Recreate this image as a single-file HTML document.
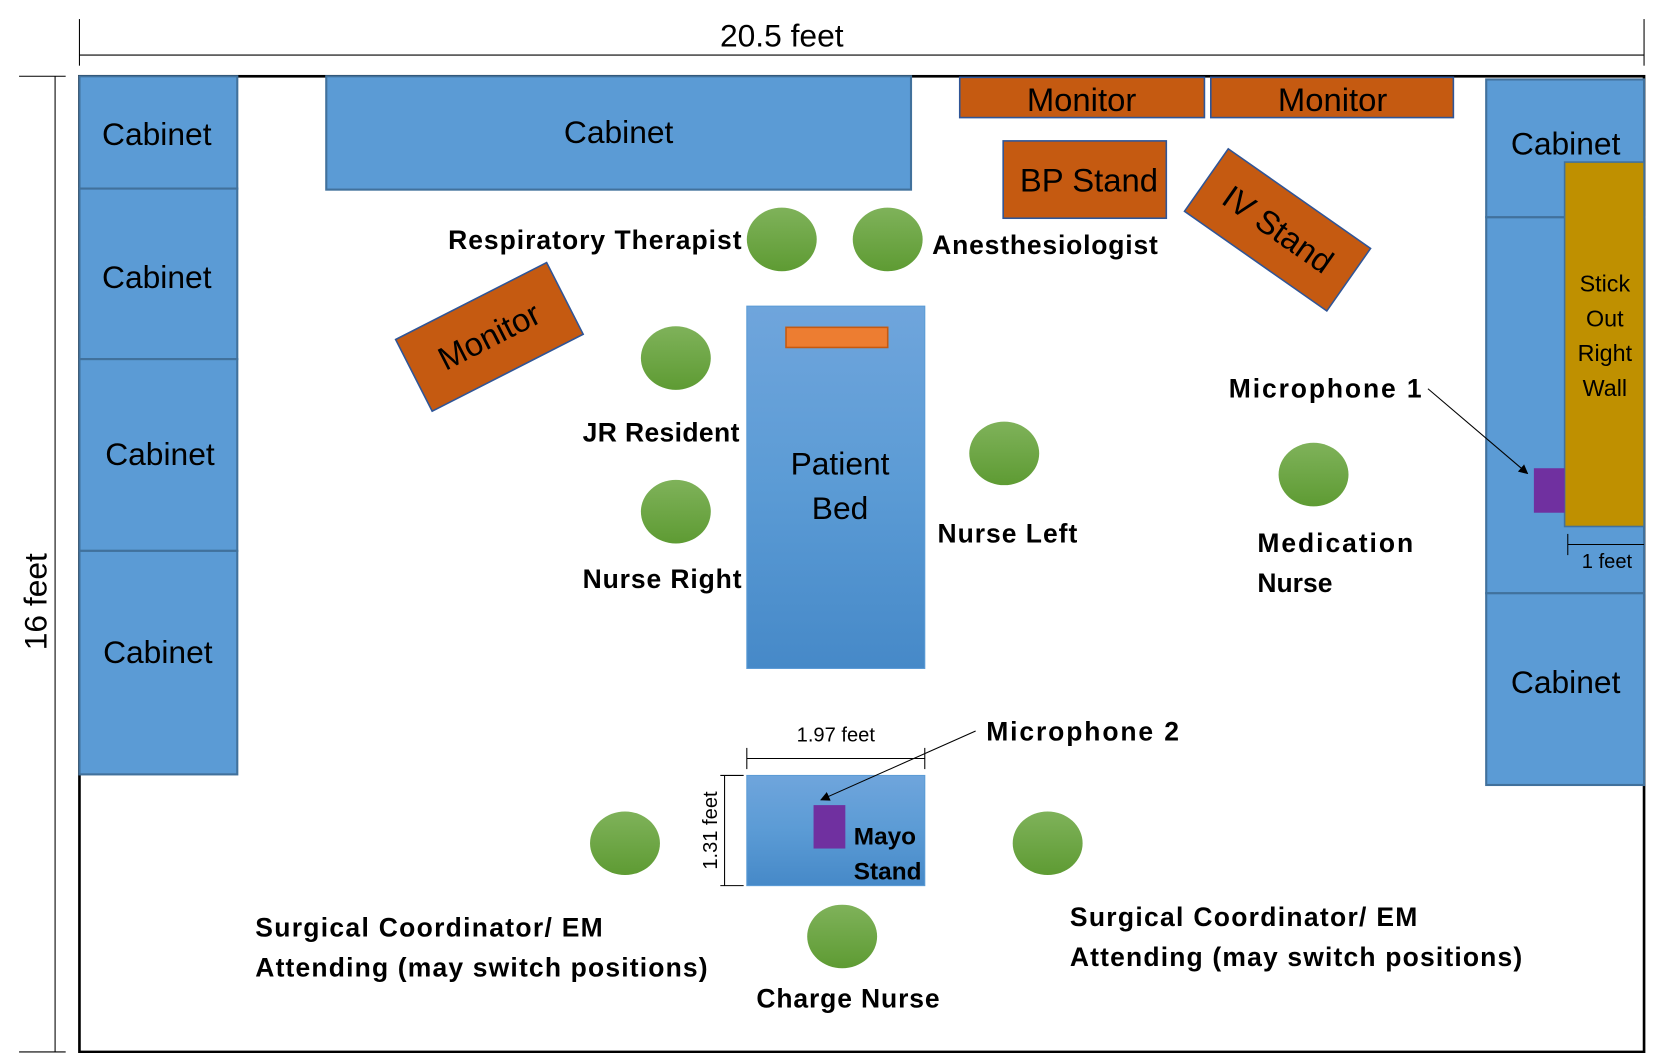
<!DOCTYPE html>
<html><head><meta charset="utf-8"><style>
html,body{margin:0;padding:0;background:#fff;width:1661px;height:1053px;overflow:hidden}
svg{display:block}
text{font-family:"Liberation Sans",sans-serif;fill:#000}
.c{fill:#5b9bd5;stroke:#41719c;stroke-width:2}
.o{fill:#c55a11;stroke:#2f5597;stroke-width:1.5}
.b{font-weight:bold;font-size:25px}
</style></head><body>
<svg width="1661" height="1053" viewBox="0 0 1568 994" preserveAspectRatio="none">
<defs>
<linearGradient id="g" x1="0" y1="0" x2="0" y2="1"><stop offset="0" stop-color="#7fb25a"/><stop offset="1" stop-color="#5e9b33"/></linearGradient>
<linearGradient id="bed" x1="0" y1="0" x2="0" y2="1"><stop offset="0" stop-color="#6fa5dc"/><stop offset="0.5" stop-color="#5b9bd5"/><stop offset="1" stop-color="#4689c8"/></linearGradient>
<marker id="ar" viewBox="0 0 10 10" refX="9" refY="5" markerWidth="9" markerHeight="9" orient="auto"><path d="M0,0L10,5L0,10z" fill="#000"/></marker>
</defs>
<line x1="75" y1="52" x2="1552" y2="52" stroke="#000" stroke-width="1"/>
<line x1="75" y1="18" x2="75" y2="62" stroke="#000"/>
<line x1="1552" y1="18" x2="1552" y2="62" stroke="#000"/>
<text x="738" y="44" font-size="30" text-anchor="middle">20.5 feet</text>
<line x1="52" y1="72" x2="52" y2="993" stroke="#000"/>
<line x1="18" y1="72" x2="62" y2="72" stroke="#000"/>
<line x1="18" y1="993" x2="62" y2="993" stroke="#000"/>
<text transform="translate(44,568) rotate(-90)" font-size="30" text-anchor="middle">16 feet</text>
<rect x="75" y="72" width="1477" height="921" fill="none" stroke="#000" stroke-width="2.5"/>
<rect class="c" x="75" y="72" width="149" height="106"/>
<rect class="c" x="75" y="178" width="149" height="161"/>
<rect class="c" x="75" y="339" width="149" height="181"/>
<rect class="c" x="75" y="520" width="149" height="211"/>
<text x="148" y="137" font-size="30" text-anchor="middle">Cabinet</text>
<text x="148" y="272" font-size="30" text-anchor="middle">Cabinet</text>
<text x="151" y="439" font-size="30" text-anchor="middle">Cabinet</text>
<text x="149" y="626" font-size="30" text-anchor="middle">Cabinet</text>
<rect class="c" x="308" y="72" width="552" height="107"/>
<text x="584" y="135" font-size="30" text-anchor="middle">Cabinet</text>
<rect class="o" x="906" y="73" width="231" height="38"/>
<rect class="o" x="1143" y="73" width="229" height="38"/>
<text x="1021" y="105" font-size="31" text-anchor="middle">Monitor</text>
<text x="1258" y="105" font-size="31" text-anchor="middle">Monitor</text>
<rect class="o" x="947" y="133" width="154" height="73"/>
<text x="1028" y="181" font-size="31" text-anchor="middle">BP Stand</text>
<g transform="translate(1206,217) rotate(35)"><rect class="o" x="-82" y="-36" width="164" height="72"/><text x="0" y="10" font-size="31" text-anchor="middle">IV Stand</text></g>
<g transform="translate(462,318) rotate(-27)"><rect class="o" x="-80" y="-38" width="160" height="76"/><text x="0" y="10" font-size="31" text-anchor="middle">Monitor</text></g>
<rect class="c" x="1403" y="205" width="149" height="355"/>
<rect class="c" x="1403" y="75" width="149" height="130"/>
<text x="1478" y="146" font-size="30" text-anchor="middle">Cabinet</text>
<rect class="c" x="1403" y="560" width="149" height="181"/>
<text x="1478" y="654" font-size="30" text-anchor="middle">Cabinet</text>
<rect x="1477" y="153" width="75" height="344" fill="#bf9000" stroke="#41719c" stroke-width="1.5"/>
<text font-size="22" text-anchor="middle"><tspan x="1515" y="275">Stick</tspan><tspan x="1515" y="308">Out</tspan><tspan x="1515" y="341">Right</tspan><tspan x="1515" y="374">Wall</tspan></text>
<rect x="1448" y="442" width="29" height="42" fill="#7030a0"/>
<line x1="1480" y1="514" x2="1552" y2="514" stroke="#000"/>
<line x1="1480" y1="504" x2="1480" y2="524" stroke="#000"/>
<text x="1517" y="536" font-size="19" text-anchor="middle">1 feet</text>
<text class="b" x="1160" y="375" textLength="182">Microphone 1</text>
<line x1="1348" y1="367" x2="1442" y2="447" stroke="#000" marker-end="url(#ar)"/>
<rect x="705" y="289" width="168" height="342" fill="url(#bed)" stroke="#5b9bd5"/>
<rect x="742" y="309" width="96" height="19" fill="#ed7d31" stroke="#c55a11" stroke-width="1.5"/>
<text x="793" y="448" font-size="30" text-anchor="middle">Patient</text>
<text x="793" y="490" font-size="30" text-anchor="middle">Bed</text>
<g fill="url(#g)">
<ellipse cx="738" cy="226" rx="33" ry="30"/>
<ellipse cx="838" cy="226" rx="33" ry="30"/>
<ellipse cx="638" cy="338" rx="33" ry="30"/>
<ellipse cx="638" cy="483" rx="33" ry="30"/>
<ellipse cx="948" cy="428" rx="33" ry="30"/>
<ellipse cx="1240" cy="448" rx="33" ry="30"/>
<ellipse cx="590" cy="796" rx="33" ry="30"/>
<ellipse cx="989" cy="796" rx="33" ry="30"/>
<ellipse cx="795" cy="884" rx="33" ry="30"/>
</g>
<text class="b" x="700" y="235" text-anchor="end" textLength="277">Respiratory Therapist</text>
<text class="b" x="880" y="240" textLength="213">Anesthesiologist</text>
<text class="b" x="550" y="417" textLength="148">JR Resident</text>
<text class="b" x="550" y="555" textLength="150">Nurse Right</text>
<text class="b" x="885" y="512" textLength="132">Nurse Left</text>
<text class="b" x="1187" y="521" textLength="147">Medication</text>
<text class="b" x="1187" y="559">Nurse</text>
<text class="b" x="241" y="884" textLength="328">Surgical Coordinator/ EM</text>
<text class="b" x="241" y="922" textLength="427">Attending (may switch positions)</text>
<text class="b" x="1010" y="874" textLength="328">Surgical Coordinator/ EM</text>
<text class="b" x="1010" y="912" textLength="427">Attending (may switch positions)</text>
<text class="b" x="714" y="951" textLength="173">Charge Nurse</text>
<text class="b" x="931" y="699" textLength="182">Microphone 2</text>
<rect x="705" y="732" width="168" height="104" fill="url(#bed)" stroke="#5b9bd5"/>
<rect x="768" y="760" width="30" height="41" fill="#7030a0"/>
<text x="806" y="797" font-size="23" font-weight="bold">Mayo</text>
<text x="806" y="830" font-size="23" font-weight="bold">Stand</text>
<line x1="705" y1="716" x2="873" y2="716" stroke="#000"/>
<line x1="705" y1="706" x2="705" y2="726" stroke="#000"/>
<line x1="873" y1="706" x2="873" y2="726" stroke="#000"/>
<text x="789" y="700" font-size="19" text-anchor="middle">1.97 feet</text>
<line x1="684" y1="732" x2="684" y2="836" stroke="#000"/>
<line x1="680" y1="732" x2="702" y2="732" stroke="#000"/>
<line x1="680" y1="836" x2="702" y2="836" stroke="#000"/>
<text transform="translate(677,784) rotate(-90)" font-size="19" text-anchor="middle">1.31 feet</text>
<line x1="921" y1="690" x2="775" y2="755" stroke="#000" marker-end="url(#ar)"/>
</svg>
</body></html>
